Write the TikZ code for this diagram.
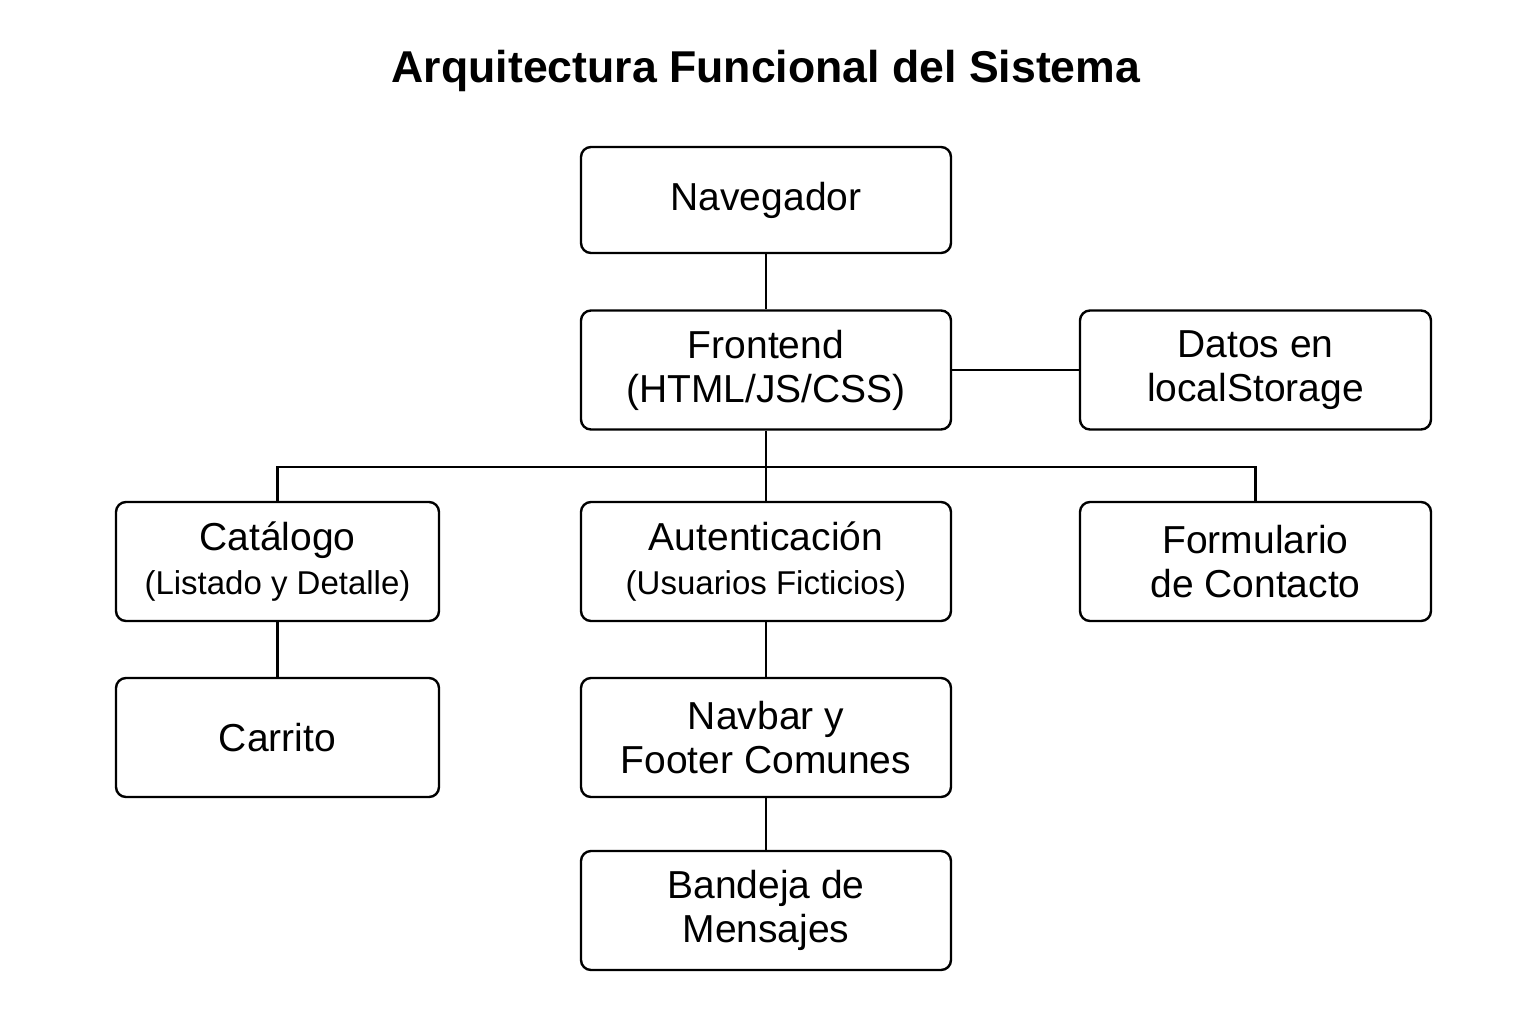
\documentclass[tikz,border=0pt]{standalone}
\usepackage{fontspec}
\setmainfont{Liberation Sans}
\begin{document}
\begin{tikzpicture}[x=0.5pt,y=-0.5pt,
  box/.style={draw, line width=1.2pt, rounded corners=5pt, align=center, inner sep=0pt,
    font=\fontsize{19.5}{22}\selectfont},
  wide/.style={minimum width=185pt},
  mid/.style={minimum width=175.5pt},
  narrow/.style={minimum width=161.5pt},
  tall/.style={minimum height=59.5pt},
  conn/.style={line width=1.1pt}]
\useasboundingbox (0,0) rectangle (1536,1024);
\fill[white] (0,0) rectangle (1536,1024);
\node[font=\bfseries\fontsize{22.3}{26}\selectfont] (title) at (766,71) {Arquitectura Funcional del Sistema};
\node[box, wide, minimum height=53pt] (nav) at (766,200) {Navegador};
\node[box, wide, tall] (front) at (766,370) {Frontend\\(HTML/JS/CSS)};
\node[box, mid, tall] (datos) at (1255.5,370) {Datos en\\localStorage};
\node[box, narrow, tall] (cat) at (277.5,561.5) {Catálogo\\{\fontsize{16.5}{20}\selectfont(Listado y Detalle)}};
\node[box, wide, tall] (auth) at (766,561.5) {Autenticación\\{\fontsize{16.5}{20}\selectfont(Usuarios Ficticios)}};
\node[box, mid, tall] (form) at (1255.5,561.5) {Formulario\\de Contacto};
\node[box, narrow, tall] (carr) at (277.5,737.5) {Carrito};
\node[box, wide, tall] (navbar) at (766,737.5) {Navbar y\\Footer Comunes};
\node[box, wide, tall] (bandeja) at (766,910.5) {Bandeja de\\Mensajes};
\coordinate (bus) at (766,467);
\draw[conn] (nav) -- (front);
\draw[conn] (front) -- (datos);
\draw[conn] (front) -- (bus);
\draw[conn] (bus) -- (auth);
\draw[conn] (bus) -| (cat);
\draw[conn] (bus) -| (form);
\draw[conn] (cat) -- (carr);
\draw[conn] (auth) -- (navbar);
\draw[conn] (navbar) -- (bandeja);
\end{tikzpicture}
\end{document}
